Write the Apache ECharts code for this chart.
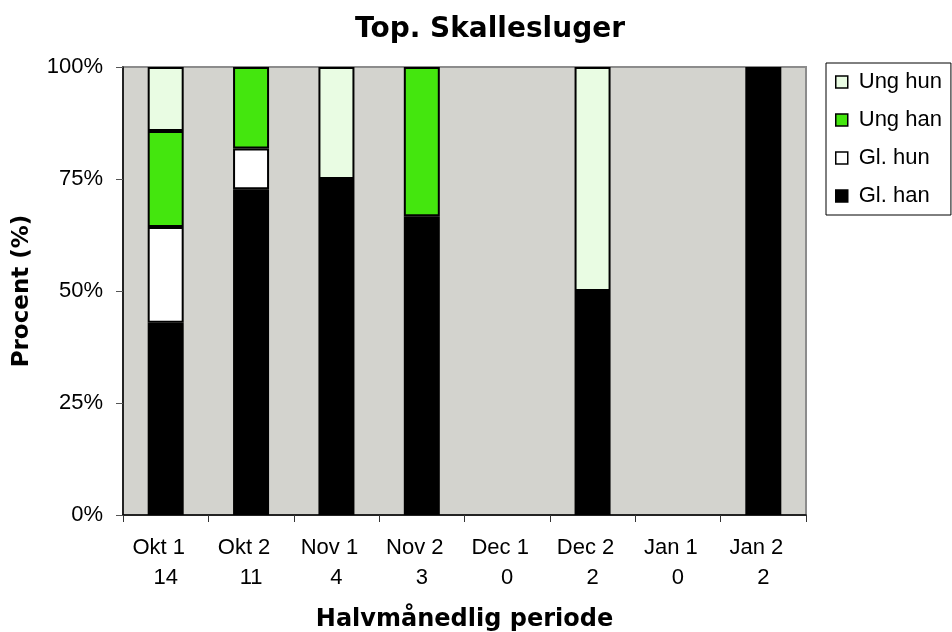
<!DOCTYPE html>
<html>
<head>
<meta charset="utf-8">
<script src="https://cdn.jsdelivr.net/npm/echarts@6/dist/echarts.min.js"></script>
<style>html,body{margin:0;padding:0;background:#fff}#c{width:952px;height:632px}</style>
</head>
<body>
<div id="c"></div>
<script>
const periods = ['Okt 1','Okt 2','Nov 1','Nov 2','Dec 1','Dec 2','Jan 1','Jan 2'];
const counts = [14, 11, 4, 3, 0, 2, 0, 2];
const glHan = [42.9, 72.7, 75, 66.7, null, 50, null, 100];
const glHun = [21.4, 9.1, null, null, null, null, null, null];
const ungHan = [21.4, 18.2, null, 33.3, null, null, null, null];
const ungHun = [14.3, null, 25, null, null, 50, null, null];
const yTicks = [0, 25, 50, 75, 100];

const font = 'Liberation Sans, Arial, sans-serif';
const boldFont = 'DejaVu Sans, sans-serif';
const chart = echarts.init(document.getElementById('c'), null, {renderer:'canvas'});
function mk(name, data, color) {
  return {
    name, type: 'bar', stack: 'a', data, barWidth: 36,
    itemStyle: {color, borderColor: '#000', borderWidth: 2},
    emphasis: {disabled: true}
  };
}
chart.setOption({
  animation: false,
  textStyle: {fontFamily: font},
  title: {
    text: 'Top. Skallesluger', left: 485, top: 11, textAlign: 'center',
    textStyle: {fontSize: 28, fontWeight: 'bold', color: '#000', fontFamily: boldFont}
  },
  grid: {
    left: 123, right: 146, top: 67, bottom: 117, show: true,
    outerBoundsMode: 'none', containLabel: false,
    backgroundColor: '#D3D3CE', borderColor: '#8C8C8C', borderWidth: 2
  },
  legend: {
    orient: 'vertical', left: 826, top: 63,
    data: ['Ung hun', 'Ung han', 'Gl. hun', 'Gl. han'],
    itemWidth: 12, itemHeight: 12, itemGap: 16,
    padding: [8, 9, 8, 9],
    borderColor: '#000', borderWidth: 1, backgroundColor: '#fff',
    itemStyle: {borderColor: '#000', borderWidth: 1.5},
    textStyle: {fontSize: 22, color: '#000', fontFamily: font, padding: [0, 0, 0, 6]},
    icon: 'rect'
  },
  xAxis: {
    type: 'category', data: periods,
    name: 'Halvmånedlig periode', nameLocation: 'middle', nameGap: 93,
    nameTextStyle: {fontSize: 24, fontWeight: 'bold', color: '#000', fontFamily: boldFont},
    axisLine: {lineStyle: {color: '#000', width: 1.5}},
    axisTick: {show: true, length: 7, lineStyle: {color: '#333'}},
    axisLabel: {
      color: '#000', margin: 18, fontFamily: font,
      formatter: (v, i) => '{a|' + v + '}\n{b|' + counts[i] + '}',
      rich: {
        a: {fontSize: 22, lineHeight: 30, padding: [0, 14, 0, 0], fontFamily: font, color: '#000'},
        b: {fontSize: 22, lineHeight: 30, fontFamily: font, color: '#000'}
      }
    },
    splitLine: {show: false}
  },
  yAxis: {
    type: 'value', min: 0, max: 100, interval: 25,
    name: 'Procent (%)', nameLocation: 'middle', nameGap: 89,
    nameTextStyle: {fontSize: 23, fontWeight: 'bold', color: '#000', fontFamily: boldFont},
    axisLine: {show: true, lineStyle: {color: '#000', width: 1.5}},
    axisTick: {show: true, length: 7, lineStyle: {color: '#555'}},
    axisLabel: {fontSize: 22, color: '#000', margin: 20, fontFamily: font,
      formatter: v => yTicks.includes(v) ? v + '%' : ''},
    splitLine: {show: false}
  },
  series: [
    mk('Gl. han', glHan, '#000000'),
    mk('Gl. hun', glHun, '#FFFFFF'),
    mk('Ung han', ungHan, '#44E60E'),
    mk('Ung hun', ungHun, '#E9FCE3')
  ]
});
</script>
</body>
</html>
